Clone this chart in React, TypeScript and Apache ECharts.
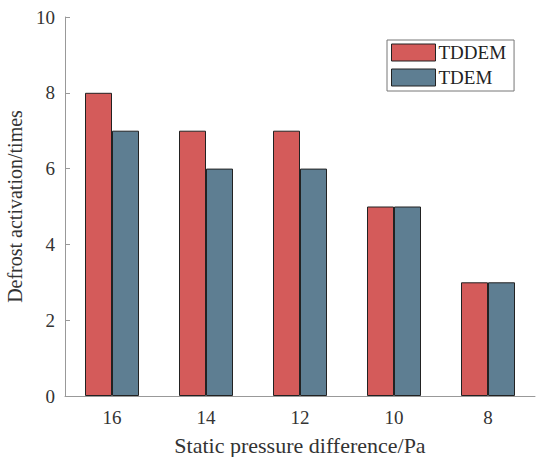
import React, { useEffect, useRef } from "react";
import * as echarts from "echarts";

const categories = ["16", "14", "12", "10", "8"];
const tddem = [8, 7, 7, 5, 3];
const tdem = [7, 6, 6, 5, 3];
const seriesNames = ["TDDEM", "TDEM"];

export default function App() {
  const ref = useRef<HTMLDivElement>(null);
  useEffect(() => {
    const chart = echarts.init(ref.current!, null, { renderer: "svg" });
    const font = "'Liberation Serif', 'DejaVu Serif', serif";
    chart.setOption({
      animation: false,
      backgroundColor: "#ffffff",
      textStyle: { fontFamily: font },
      grid: { left: 65, right: 4, top: 17, bottom: 61, containLabel: false, outerBoundsMode: "none" },
      legend: {
        orient: "vertical",
        left: 387,
        top: 40,
        itemWidth: 44,
        itemHeight: 17,
        itemGap: 6,
        padding: [3, 8, 4, 4],
        borderColor: "#777",
        borderWidth: 1,
        textStyle: { fontFamily: font, fontSize: 19, color: "#222", padding: [0, 0, 0, -2] },
        icon: "rect",
        itemStyle: { borderColor: "#222", borderWidth: 1 },
        data: seriesNames,
      },
      xAxis: {
        type: "category",
        data: categories,
        axisLine: { lineStyle: { color: "#999" } },
        axisTick: { show: false },
        axisLabel: { fontFamily: font, fontSize: 19, color: "#333", margin: 12 },
        name: "Static pressure difference/Pa",
        nameLocation: "middle",
        nameGap: 38,
        nameTextStyle: { fontFamily: font, fontSize: 22, color: "#333" },
      },
      yAxis: {
        type: "value",
        min: 0,
        max: 10,
        interval: 2,
        splitLine: { show: false },
        axisLine: { show: true, lineStyle: { color: "#999" } },
        axisTick: { show: true, inside: true, length: 5, lineStyle: { color: "#999" } },
        axisLabel: { fontFamily: font, fontSize: 19, color: "#333", margin: 10 },
        name: "Defrost activation/times",
        nameLocation: "middle",
        nameGap: 36,
        nameTextStyle: { fontFamily: font, fontSize: 20, color: "#333" },
      },
      series: [
        {
          name: seriesNames[0],
          type: "bar",
          data: tddem,
          barWidth: 27,
          barGap: "0%",
          itemStyle: { color: "#D45B5A", borderColor: "#222", borderWidth: 1 },
        },
        {
          name: seriesNames[1],
          type: "bar",
          data: tdem,
          barWidth: 27,
          barGap: "0%",
          itemStyle: { color: "#5E7E92", borderColor: "#222", borderWidth: 1 },
        },
      ],
    });
    return () => chart.dispose();
  }, []);
  return <div ref={ref} style={{ width: 539, height: 457, position: "absolute", left: 0, top: 0 }} />;
}
